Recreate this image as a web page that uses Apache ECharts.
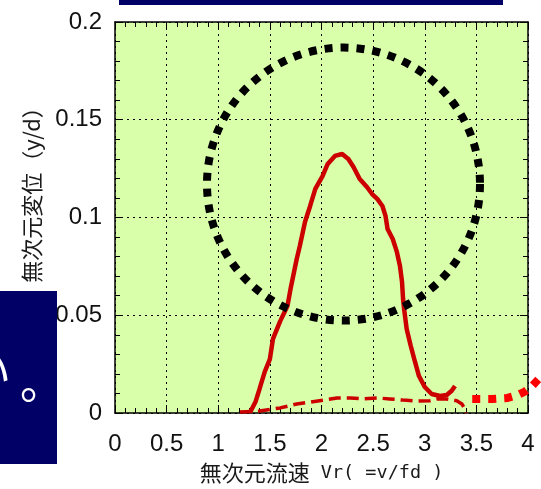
<!DOCTYPE html>
<html><head><meta charset="utf-8">
<script src="https://cdn.jsdelivr.net/npm/echarts@6/dist/echarts.min.js"></script>
<style>html,body{margin:0;padding:0;background:#fff}#c{width:541px;height:489px}</style>
</head><body><div id="c"></div>
<script>
// ---- data ----
const xTickLabels = ['0','0.5','1','1.5','2','2.5','3','3.5','4'];
const yTickLabels = ['0','0.05','0.1','0.15','0.2'];
const xTitle = '無次元流速';
const xTitleLatin = ' Vr( =v/fd )';
const yTitle = '無次元変位（y/d）';

// main response (solid red)
const respX = [1.31,1.36,1.40,1.45,1.50,1.53,1.60,1.67,1.70,1.73,1.76,1.79,1.84,1.89,1.94,2.01,2.06,2.13,2.20,2.26,2.31,2.37,2.44,2.49,2.54,2.59,2.62,2.64,2.69,2.73,2.76,2.78,2.79,2.80,2.825,2.864,2.906,2.944,3.0,3.067,3.148,3.213,3.261,3.293];
const respY = [0.0005,0.0056,0.0123,0.021,0.0276,0.0379,0.047,0.0547,0.0634,0.0711,0.0788,0.0854,0.0977,0.1059,0.1146,0.1212,0.1274,0.1315,0.1325,0.1299,0.1258,0.1197,0.1156,0.112,0.1095,0.1059,0.1008,0.0941,0.089,0.0824,0.0752,0.067,0.0583,0.0532,0.043,0.0344,0.0261,0.0189,0.0133,0.0097,0.0087,0.0092,0.0114,0.0138];

// low response (dashed red)
const lowX = [1.21,1.40,1.60,1.76,1.89,2.02,2.15,2.28,2.40,2.54,2.66,2.79,2.93,3.05,3.12,3.21,3.31,3.36,3.39,3.40];
const lowY = [0.0005,0.001,0.0026,0.0046,0.0056,0.0066,0.0077,0.0077,0.0072,0.0077,0.0072,0.0066,0.0061,0.0063,0.0072,0.0072,0.0063,0.0046,0.002,0.0];

// extension (dotted bright red), runs past the right edge of the plot
const extX = [3.46,3.65,3.80,3.90,3.97,4.04,4.14];
const extY = [0.0072,0.0072,0.0077,0.0092,0.0110,0.0138,0.0195];

// highlight circle: centre x, centre y, radius (in x units)
const circleX = [2.213];
const circleY = [0.1171];
const circleR = [1.322];

const pairs = (xs, ys) => xs.map((x, i) => [x, ys[i]]);

const chart = echarts.init(document.getElementById('c'), null, {renderer: 'canvas'});

const tickFont = {fontFamily: '"Liberation Sans", Arial, sans-serif', fontSize: 24, color: '#111'};
const axisLine = {show: true, onZero: false, lineStyle: {color: '#000', width: 1.5}};
const axisTick = {show: true, inside: true, length: 8, lineStyle: {color: '#000', width: 1}};
const minorTick = {show: true, splitNumber: 5, length: 5, lineStyle: {color: '#000', width: 1}};
const split = {show: true, lineStyle: {color: '#000', width: 1, type: [2, 4]}};

chart.setOption({
  animation: false,
  backgroundColor: '#fff',
  grid: {left: 115, right: 13, top: 22, bottom: 75, show: true, backgroundColor: '#d9ffaa', borderWidth: 0},
  xAxis: [{
    type: 'value', min: 0, max: 4, interval: 0.5, position: 'bottom',
    axisLine, axisTick, minorTick, splitLine: split,
    axisLabel: Object.assign({margin: 19, formatter: v => xTickLabels[Math.round(v / 0.5)]}, tickFont),
    name: '{c|' + xTitle + '}{m|' + xTitleLatin + '}',
    nameLocation: 'middle', nameGap: 49,
    nameTextStyle: {rich: {
      c: {fontFamily: '"Noto Sans CJK JP"', fontSize: 22, color: '#1a1a1a'},
      m: {fontFamily: '"DejaVu Sans Mono"', fontSize: 18.5, color: '#1a1a1a'}
    }}
  }, {
    type: 'value', min: 0, max: 4, interval: 0.5, position: 'top',
    axisLine, axisTick, minorTick, splitLine: {show: false}, axisLabel: {show: false}
  }],
  yAxis: [{
    type: 'value', min: 0, max: 0.2, interval: 0.05, position: 'left',
    axisLine, axisTick, minorTick, splitLine: split,
    axisLabel: Object.assign({margin: 13, formatter: v => yTickLabels[Math.round(v / 0.05)]}, tickFont),
    name: yTitle, nameLocation: 'middle', nameRotate: 90, nameGap: 72,
    nameTextStyle: {fontFamily: '"Noto Sans CJK JP"', fontSize: 22, color: '#1a1a1a', padding: [0, 0, 0, 56]}
  }, {
    type: 'value', min: 0, max: 0.2, interval: 0.05, position: 'right',
    axisLine, axisTick, minorTick, splitLine: {show: false}, axisLabel: {show: false}
  }],
  series: [{
    name: 'low', type: 'line', data: pairs(lowX, lowY), showSymbol: false, symbol: 'none',
    lineStyle: {color: '#cc0000', width: 3.5, type: [12, 6]}, z: 3
  }, {
    name: 'response', type: 'line', data: pairs(respX, respY), showSymbol: false, symbol: 'none',
    lineStyle: {color: '#cc0000', width: 4.5}, z: 4
  }, {
    name: 'extension', type: 'custom', clip: false, z: 4,
    data: pairs(extX, extY),
    renderItem: (params, api) => {
      if (params.dataIndex !== 0) return;
      const pts = extX.map((x, i) => api.coord([x, extY[i]]));
      return {type: 'polyline', shape: {points: pts},
        style: {fill: 'none', stroke: '#ff0000', lineWidth: 8, lineDash: [8, 8]}};
    }
  }, {
    name: 'circle', type: 'custom', clip: false, z: 5,
    data: circleX.map((x, i) => [x, circleY[i], circleR[i]]),
    renderItem: (params, api) => {
      const c = api.coord([api.value(0), api.value(1)]);
      const r = api.size([api.value(2), 0])[0];
      return {type: 'circle', shape: {cx: c[0], cy: c[1], r: r},
        style: {fill: 'none', stroke: '#000', lineWidth: 8, lineDash: [8, 8]}};
    }
  }],
  graphic: [
    {type: 'rect', shape: {x: 119, y: 0, width: 384, height: 5}, style: {fill: '#000066'}, z: 100},
    {type: 'rect', shape: {x: 0, y: 291, width: 57, height: 173}, style: {fill: '#000066'}, z: 100},
    {type: 'text', x: -33, y: 393, z: 101,
      style: {text: 'い', fill: '#fff', font: '44px "Noto Sans CJK JP"', verticalAlign: 'bottom', align: 'left'}},
    {type: 'text', x: 20, y: 404, z: 101,
      style: {text: '。', fill: '#fff', font: '44px "Noto Sans CJK JP"', verticalAlign: 'bottom', align: 'left'}}
  ]
});
</script></body></html>
